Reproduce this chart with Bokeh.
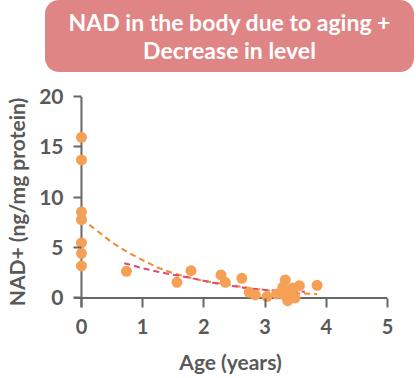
from bokeh.plotting import figure
from bokeh.models import Div, Range1d, FixedTicker, Span
from bokeh.layouts import column
from bokeh.embed import file_html
from bokeh.resources import INLINE

# --- data ---
age = [0, 0, 0, 0, 0, 0, 0,
       0.735, 1.56, 1.79, 2.28, 2.35, 2.62, 2.74, 2.84, 3.03, 3.19,
       3.33, 3.29, 3.31, 3.37, 3.45, 3.42, 3.49, 3.56, 3.85]
nad = [15.95, 13.7, 8.54, 7.77, 5.46, 4.43, 3.18,
       2.64, 1.55, 2.71, 2.28, 1.55, 1.95, 0.56, 0.3, 0.13, 0.4,
       1.79, 1.05, 0.3, -0.27, 0.99, 0.56, 0.0, 1.22, 1.25]

fit1_x = [0, 0.25, 0.5, 0.75, 1.0, 1.25, 1.5, 1.75, 2.0, 2.25, 2.5, 2.75, 3.0, 3.25, 3.5, 3.85]
fit1_y = [7.85, 6.7, 5.5, 4.55, 3.75, 3.0, 2.45, 2.05, 1.7, 1.45, 1.2, 0.98, 0.78, 0.62, 0.5, 0.36]

fit2_x = [0.7, 1.0, 1.25, 1.5, 1.75, 2.0, 2.25, 2.5, 2.75, 3.0, 3.25, 3.5, 3.65]
fit2_y = [3.45, 2.95, 2.6, 2.3, 2.03, 1.7, 1.38, 1.15, 0.93, 0.8, 0.7, 0.65, 0.62]

x_ticks = [0, 1, 2, 3, 4, 5]
y_ticks = [0, 5, 10, 15, 20]

title_text = "NAD in the body due to aging +<br>Decrease in level"
x_title = "Age (years)"
y_title = "NAD+ (ng/mg protein)"

FONT = "Lato"
GREY = "#595959"
AXIS = "#666666"

header = Div(
    text=title_text, width=369, height=72, margin=(0, 0, 0, 45),
    styles={
        "background-color": "#E08585", "border-radius": "14px",
        "color": "white", "font-family": FONT, "font-weight": "bold",
        "font-size": "23px", "line-height": "28px", "text-align": "center",
        "padding-top": "8px", "box-sizing": "border-box",
    },
)

p = figure(width=416, height=306, output_backend="svg", toolbar_location=None,
           x_range=Range1d(-0.13, 5.0), y_range=Range1d(-0.95, 20.0),
           min_border_left=73, min_border_right=29, min_border_top=24,
           min_border_bottom=71)
p.outline_line_color = None
p.grid.visible = False
p.background_fill_color = "white"

# axis lines crossing at the origin
p.add_layout(Span(location=0, dimension="height", line_color=AXIS,
                  line_width=2, level="underlay"))
p.add_layout(Span(location=0, dimension="width", line_color=AXIS,
                  line_width=2, level="underlay"))

p.line(fit1_x, fit1_y, line_color="#F08A30", line_width=2, line_dash="6 4")
p.line(fit2_x, fit2_y, line_color="#E0457B", line_width=2, line_dash="6 4")
p.scatter(age, nad, size=11, fill_color="#F5A055", line_color=None)

for ax in (p.xaxis[0], p.yaxis[0]):
    ax.axis_line_color = None
    ax.major_tick_line_color = AXIS
    ax.major_tick_line_width = 2
    ax.major_tick_out = 0
    ax.minor_tick_line_color = None
    ax.major_label_text_font = FONT
    ax.major_label_text_font_style = "bold"
    ax.major_label_text_color = GREY
    ax.axis_label_text_font = FONT
    ax.axis_label_text_font_style = "bold"
    ax.axis_label_text_color = GREY
    ax.axis_label_text_font_size = "21px"

p.xaxis.major_tick_in = 9
p.yaxis.major_tick_in = 8
p.xaxis.ticker = FixedTicker(ticks=x_ticks)
p.yaxis.ticker = FixedTicker(ticks=y_ticks)
p.xaxis.axis_label = x_title
p.yaxis.axis_label = y_title
p.xaxis.major_label_text_font_size = "20px"
p.yaxis.major_label_text_font_size = "21px"
p.xaxis.major_label_standoff = 11
p.yaxis.major_label_standoff = 10
p.xaxis.axis_label_standoff = 12
p.yaxis.axis_label_standoff = 7

layout = column(header, p, spacing=0)
open("out.html", "w").write(file_html(layout, INLINE))
